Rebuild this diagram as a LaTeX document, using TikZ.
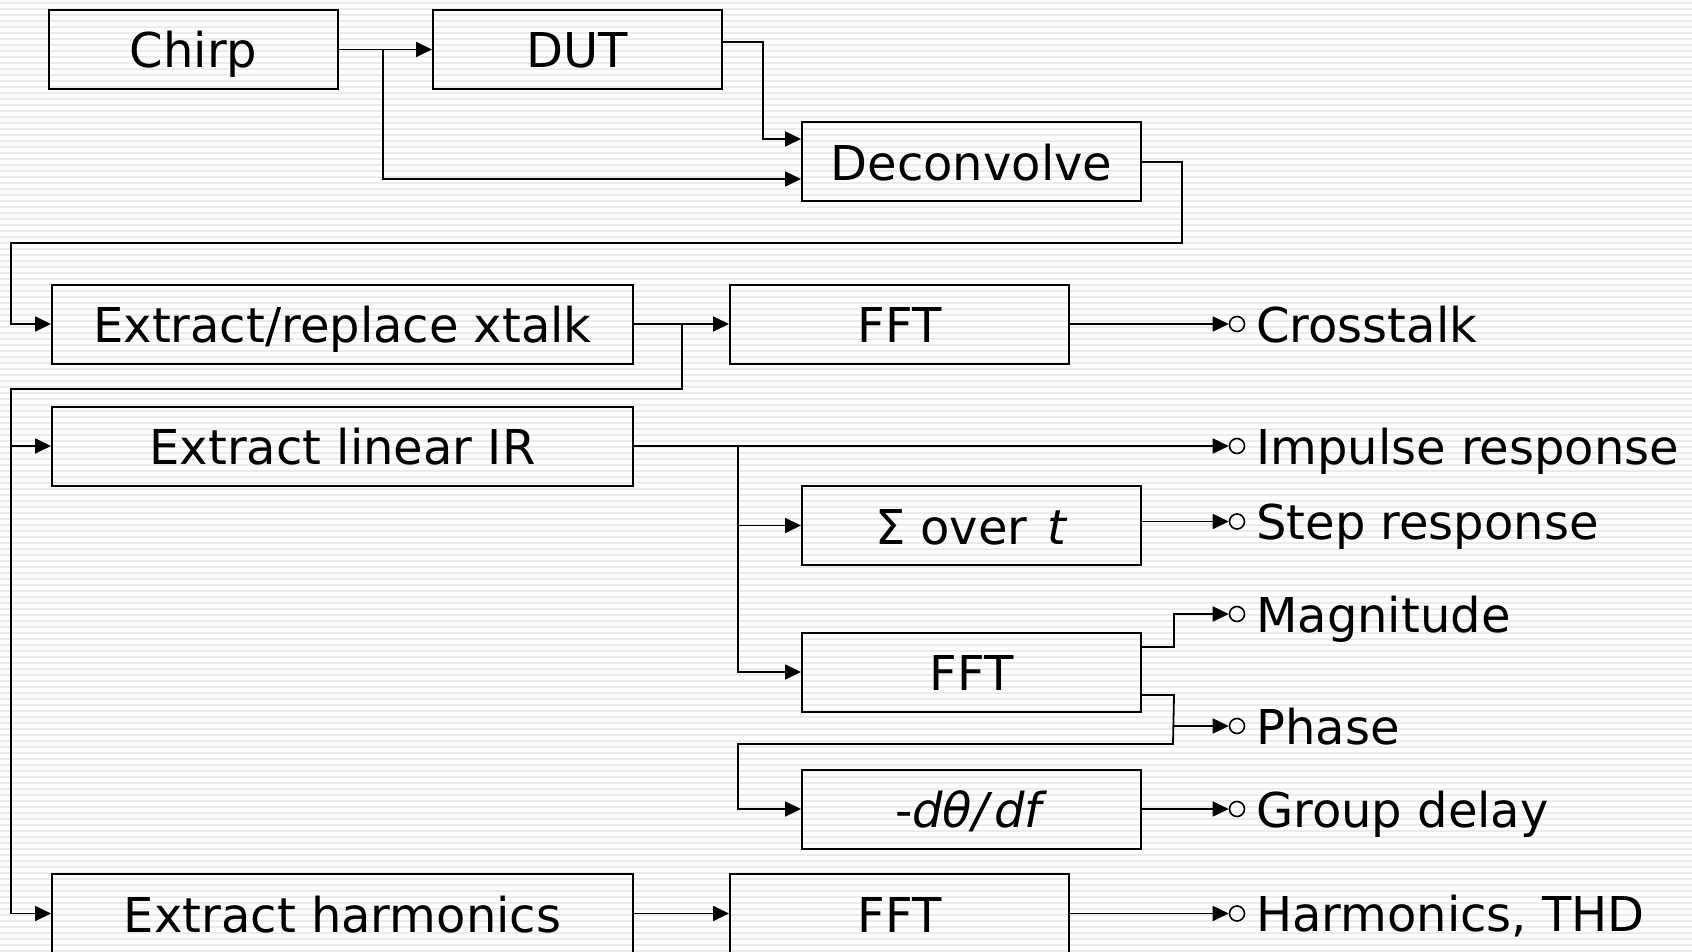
\documentclass[tikz,border=0pt]{standalone}
\usepackage{fontspec}
\setmainfont{DejaVu Sans}
\usetikzlibrary{arrows.meta,calc}
\begin{document}
\begin{tikzpicture}[x=1pt,y=-1pt,
  txt/.style={font=\fontsize{48}{56}\selectfont},
  box/.style={draw,line width=2pt,inner sep=0pt,minimum height=79pt,text height=37pt,text depth=0pt,txt},
  wide/.style={box,minimum width=581pt},
  mid/.style={box,minimum width=339pt},
  small/.style={box,minimum width=289pt},
  line/.style={line width=1.8pt},
  arr/.style={line,-{Triangle[length=16pt,width=15pt]}},
  term/.style={draw,circle,line width=1.6pt,inner sep=0pt,minimum size=15pt},
  lab/.style={anchor=base west,inner sep=0pt,txt}]
\useasboundingbox (0,0) rectangle (1692,952);
\clip (0,0) rectangle (1692,952);
\fill[white] (0,0) rectangle (1692,952);
\foreach \i in {0,...,159} \draw[black!8,line width=2pt] (0,\i*6+3) -- (1692,\i*6+3);
% boxes
\node[small] (chirp) at (193.5,49.5) {Chirp};
\node[small] (dut) at (577.5,49.5) {DUT};
\node[mid] (dec) at (971.5,162) {Deconvolve};
\node[wide] (xt) at (342.5,324) {Extract/replace xtalk};
\node[mid] (fft1) at (899.5,324) {FFT};
\node[wide] (lin) at (342.5,446) {Extract linear IR};
\node[mid] (sum) at (971.5,525.5) {Σ over\hspace{20pt}\textit{t}};
\node[mid] (fft2) at (971.5,672) {FFT};
\node[mid] (gd) at (971.5,809) {-\textit{dθ/\hspace{6pt}df}};
\node[wide] (harm) at (342.5,913.5) {Extract harmonics};
\node[mid] (fft3) at (899.5,913.5) {FFT};
% terminals and labels
\node[term] (t1) at (1237,324) {};
\node[lab] (l1) at (1256,342) {Crosstalk};
\node[term] (t2) at (1237,446) {};
\node[lab] (l2) at (1256,464) {Impulse response};
\node[term] (t3) at (1237,521.5) {};
\node[lab] (l3) at (1256,539.5) {Step response};
\node[term] (t4) at (1237,614) {};
\node[lab] (l4) at (1256,632) {Magnitude};
\node[term] (t5) at (1237,726) {};
\node[lab] (l5) at (1256,744) {Phase};
\node[term] (t6) at (1237,809) {};
\node[lab] (l6) at (1256,827) {Group delay};
\node[term] (t7) at (1237,913.5) {};
\node[lab] (l7) at (1256,931.5) {Harmonics, THD};
% bend coordinates
\coordinate (s1) at (383,49.5);
\coordinate (s2) at (682,324);
\coordinate (s3) at (738,446);
\coordinate (lft) at (11,389);
\coordinate (ph) at (1173,726);
% connectors
\draw[arr] (chirp.east) -- (dut.west);
\draw[arr] (s1) |- ([yshift=-17pt]dec.west);
\draw[arr] ([yshift=7.5pt]dut.east) -- ++(40,0) |- ([yshift=23pt]dec.west);
\draw[arr] (dec.east) -| (1182,243) -- (11,243) |- (xt.west);
\draw[arr] (xt.east) -- (fft1.west);
\draw[arr] (s2) |- (lft) |- (harm.west);
\draw[arr] (lft |- lin.west) -- (lin.west);
\draw[arr] (fft1.east) -- (t1.west);
\draw[arr] (lin.east) -- (t2.west);
\draw[arr] (s3) |- (sum.west);
\draw[arr] (s3) |- (fft2.west);
\draw[arr] ([yshift=4pt]sum.east) -- (t3.west);
\draw[arr] ([yshift=25pt]fft2.east) -- ++(32,0) |- (t4.west);
\draw[arr] ([yshift=-23pt]fft2.east) -- ++(32,0) -- (1173,744) -- (738,744) |- (gd.west);
\draw[arr] (ph) -- (t5.west);
\draw[arr] (gd.east) -- (t6.west);
\draw[arr] (harm.east) -- (fft3.west);
\draw[arr] (fft3.east) -- (t7.west);
\end{tikzpicture}
\end{document}
